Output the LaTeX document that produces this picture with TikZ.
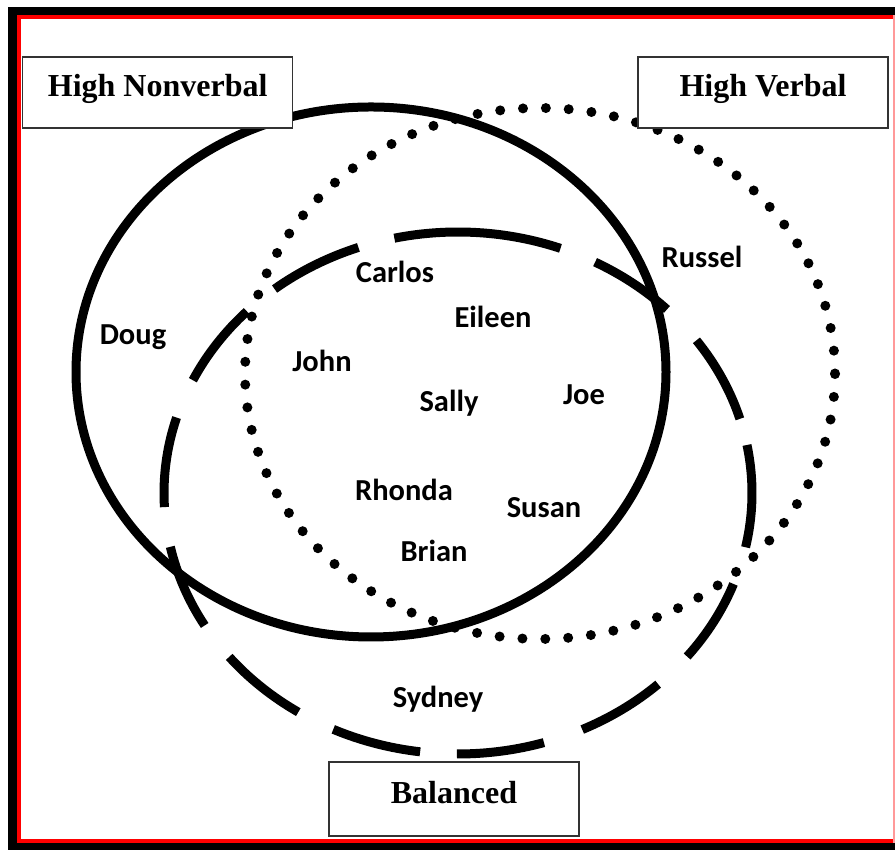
\documentclass[tikz,border=0pt]{standalone}
\usepackage{fontspec}
\setmainfont{Liberation Serif}
\newfontfamily\namefont{Carlito}
\begin{document}
\begin{tikzpicture}[x=1pt,y=1pt,
  lbl/.style={draw=black!80, line width=1.5pt, fill=white,
    font=\fontsize{32}{38}\selectfont\bfseries,
    text height=10pt, text depth=1pt, inner sep=0pt},
  nm/.style={anchor=base, inner sep=0pt,
    font={\namefont\fontsize{30.5}{36}\selectfont\bfseries}},
  solidring/.style={line width=9pt},
  dotring/.style={line width=10pt, line cap=round, dash pattern=on 0pt off 22.88pt},
  dashseg/.style={line width=9pt}]
\useasboundingbox (0,0) rectangle (895,850);
% frame
\fill[black] (8,0) rectangle (17,843);
\fill[black] (8,835) rectangle (895,843);
\fill[black] (8,0) rectangle (895,7);
\fill[red] (17,7) rectangle (20.5,835);
\fill[red] (17,831) rectangle (895,835);
\fill[red] (17,7) rectangle (895,10.5);
\fill[red!40] (893,7) rectangle (895,835);
% solid ring (High Nonverbal)
\coordinate (sc) at (371,478);
\draw[solidring] (sc) ellipse [x radius=295pt, y radius=265pt];
% dotted ring (High Verbal)
\coordinate (vc) at (540,476.5);
\draw[dotring] (vc) ellipse [x radius=295pt, y radius=265.5pt];
% dashed ring (Balanced)
\coordinate (dc) at (458,357);
\foreach \a/\b in {128.6/109.8, 102.5/69.6, 62.2/44.7, 35.8/16.5, 10.6/-12,
  -20.4/-38.8, -47.1/-65, -73/-90.2, -97.4/-115.1, -122.9/-141.1,
  -149.5/-168.1, 163.2/183.1, 135.9/154.4}
  \draw[dashseg] ([shift={(\a:294pt and 261pt)}]dc)
    arc[start angle=\a, end angle=\b, x radius=294pt, y radius=261pt];
% labels
\node[lbl, minimum width=270pt, minimum height=71pt] (hnv) at (157.7,757.5) {High Nonverbal};
\node[lbl, minimum width=250pt, minimum height=71pt] (hv) at (763,757.5) {High Verbal};
\node[lbl, minimum width=250pt, minimum height=74pt] (bal) at (454,51) {Balanced};
% names
\node[nm] (carlos) at (395,567) {Carlos};
\node[nm] (eileen) at (493,522) {Eileen};
\node[nm] (doug) at (133,505) {Doug};
\node[nm] (john) at (322,478) {John};
\node[nm] (sally) at (449,438) {Sally};
\node[nm] (joe) at (584,445) {Joe};
\node[nm] (russel) at (702,582) {Russel};
\node[nm] (rhonda) at (404,349) {Rhonda};
\node[nm] (susan) at (544,332) {Susan};
\node[nm] (brian) at (434,288) {Brian};
\node[nm] (sydney) at (438,142) {Sydney};
\end{tikzpicture}
\end{document}
